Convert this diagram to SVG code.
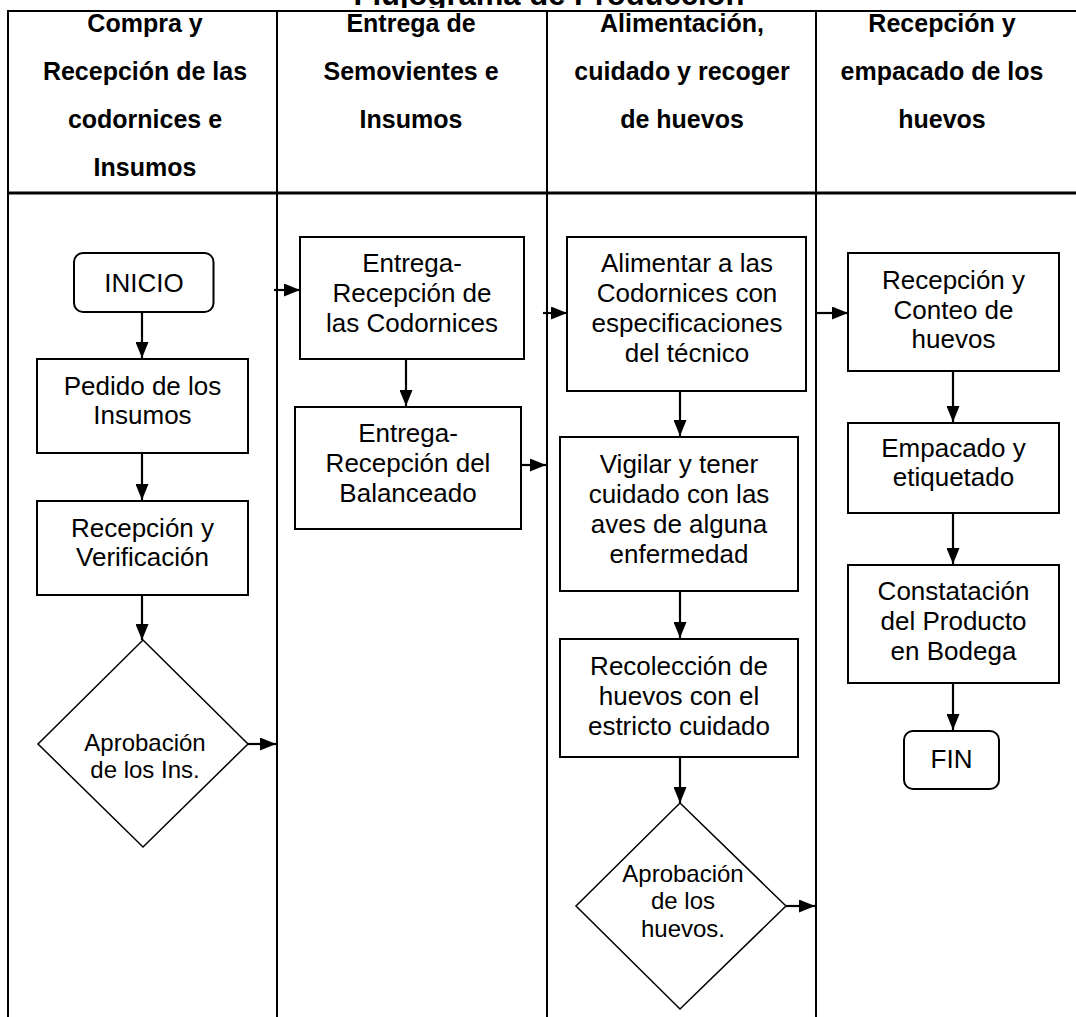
<svg xmlns="http://www.w3.org/2000/svg" width="1076" height="1017" viewBox="0 0 1076 1017">
<style>
  text { font-family: "Liberation Sans", Arial, sans-serif; fill: #000; text-anchor: middle; }
  .title { font-size: 31px; font-weight: bold; }
  .hdr { font-size: 25px; font-weight: bold; }
  .txt { font-size: 26px; }
  .dtxt { font-size: 24px; }
  .lane { stroke: #000; stroke-width: 2; fill: none; }
  .box { fill: #fff; stroke: #000; stroke-width: 2; }
  .dec { fill: #fff; stroke: #000; stroke-width: 1.5; }
  .conn line { stroke: #000; stroke-width: 2.2; marker-end: url(#arr); }
</style>
<defs>
  <marker id="arr" markerUnits="userSpaceOnUse" markerWidth="16" markerHeight="13" refX="16" refY="6.5" orient="auto">
    <path d="M0,0 L16,6.5 L0,13 Z" fill="#000"/>
  </marker>
  <clipPath id="titleClip"><rect x="0" y="0" width="1076" height="8"/></clipPath>
</defs>
<rect width="1076" height="1017" fill="#fff"/>

<g id="title" clip-path="url(#titleClip)">
  <text class="title" x="549" y="5">Flujograma de Producción</text>
</g>

<g id="table">
  <line class="lane" x1="8" y1="11" x2="1076" y2="11" stroke-width="2.5"/>
  <line class="lane" x1="8" y1="193" x2="1076" y2="193" style="stroke-width:3"/>
  <line class="lane" x1="8" y1="10" x2="8" y2="1017"/>
  <line class="lane" x1="277" y1="10" x2="277" y2="1017"/>
  <line class="lane" x1="547" y1="10" x2="547" y2="1017"/>
  <line class="lane" x1="816" y1="10" x2="816" y2="1017"/>
</g>

<g id="headers">
  <text class="hdr" x="145" y="32">Compra y</text>
  <text class="hdr" x="145" y="80">Recepción de las</text>
  <text class="hdr" x="145" y="128">codornices e</text>
  <text class="hdr" x="145" y="176">Insumos</text>
  <text class="hdr" x="411" y="32">Entrega de</text>
  <text class="hdr" x="411" y="80">Semovientes e</text>
  <text class="hdr" x="411" y="128">Insumos</text>
  <text class="hdr" x="682" y="32">Alimentación,</text>
  <text class="hdr" x="682" y="80">cuidado y recoger</text>
  <text class="hdr" x="682" y="128">de huevos</text>
  <text class="hdr" x="942" y="32">Recepción y</text>
  <text class="hdr" x="942" y="80">empacado de los</text>
  <text class="hdr" x="942" y="128">huevos</text>
</g>

<g id="inicio">
  <rect class="box" x="74" y="253" width="139.5" height="59" rx="9"/>
  <text class="txt" x="144" y="292">INICIO</text>
</g>
<g id="pedido">
  <rect class="box" x="37" y="359" width="211" height="94"/>
  <text class="txt" x="142.5" y="395">Pedido de los</text>
  <text class="txt" x="142.5" y="424">Insumos</text>
</g>
<g id="recepcion-verificacion">
  <rect class="box" x="37" y="501" width="211" height="94"/>
  <text class="txt" x="142.5" y="537">Recepción y</text>
  <text class="txt" x="142.5" y="566">Verificación</text>
</g>
<g id="aprobacion-ins">
  <polygon class="dec" points="143,640 248,744 143,847 38,744"/>
  <text class="dtxt" x="145" y="751">Aprobación</text>
  <text class="dtxt" x="145" y="778">de los Ins.</text>
</g>

<g id="entrega-codornices">
  <rect class="box" x="300" y="237" width="224" height="122"/>
  <text class="txt" x="412" y="272">Entrega-</text>
  <text class="txt" x="412" y="302">Recepción de</text>
  <text class="txt" x="412" y="332">las Codornices</text>
</g>
<g id="entrega-balanceado">
  <rect class="box" x="295" y="407" width="226" height="122"/>
  <text class="txt" x="408" y="442">Entrega-</text>
  <text class="txt" x="408" y="472">Recepción del</text>
  <text class="txt" x="408" y="502">Balanceado</text>
</g>

<g id="alimentar">
  <rect class="box" x="567" y="237" width="239" height="154"/>
  <text class="txt" x="687" y="272">Alimentar a las</text>
  <text class="txt" x="687" y="302">Codornices con</text>
  <text class="txt" x="687" y="332">especificaciones</text>
  <text class="txt" x="687" y="362">del técnico</text>
</g>
<g id="vigilar">
  <rect class="box" x="560" y="437" width="238" height="154"/>
  <text class="txt" x="679" y="473">Vigilar y tener</text>
  <text class="txt" x="679" y="503">cuidado con las</text>
  <text class="txt" x="679" y="533">aves de alguna</text>
  <text class="txt" x="679" y="563">enfermedad</text>
</g>
<g id="recoleccion">
  <rect class="box" x="560" y="639" width="238" height="118"/>
  <text class="txt" x="679" y="675">Recolección de</text>
  <text class="txt" x="679" y="705">huevos con el</text>
  <text class="txt" x="679" y="735">estricto cuidado</text>
</g>
<g id="aprobacion-huevos">
  <polygon class="dec" points="680,803 786,906 680,1009 576,906"/>
  <text class="dtxt" x="683" y="882">Aprobación</text>
  <text class="dtxt" x="683" y="909">de los</text>
  <text class="dtxt" x="683" y="937">huevos.</text>
</g>

<g id="recepcion-conteo">
  <rect class="box" x="848" y="253" width="211" height="118"/>
  <text class="txt" x="953.5" y="289">Recepción y</text>
  <text class="txt" x="953.5" y="319">Conteo de</text>
  <text class="txt" x="953.5" y="348">huevos</text>
</g>
<g id="empacado">
  <rect class="box" x="848" y="423" width="211" height="90"/>
  <text class="txt" x="953.5" y="457">Empacado y</text>
  <text class="txt" x="953.5" y="486">etiquetado</text>
</g>
<g id="constatacion">
  <rect class="box" x="848" y="565" width="211" height="118"/>
  <text class="txt" x="953.5" y="600">Constatación</text>
  <text class="txt" x="953.5" y="630">del Producto</text>
  <text class="txt" x="953.5" y="660">en Bodega</text>
</g>
<g id="fin">
  <rect class="box" x="904" y="731" width="95" height="58" rx="9"/>
  <text class="txt" x="951.5" y="768">FIN</text>
</g>

<g id="connectors" class="conn">
  <line x1="142" y1="312" x2="142" y2="358"/>
  <line x1="142" y1="453" x2="142" y2="500"/>
  <line x1="142" y1="595" x2="142" y2="640"/>
  <line x1="248" y1="744" x2="276" y2="744"/>
  <line x1="274" y1="290" x2="300" y2="290"/>
  <line x1="406" y1="359" x2="406" y2="406"/>
  <line x1="521" y1="465" x2="546" y2="465"/>
  <line x1="543" y1="313" x2="567" y2="313"/>
  <line x1="680" y1="391" x2="680" y2="436"/>
  <line x1="680" y1="591" x2="680" y2="638"/>
  <line x1="680" y1="757" x2="680" y2="803"/>
  <line x1="786" y1="906" x2="815" y2="906"/>
  <line x1="816" y1="313" x2="848" y2="313"/>
  <line x1="953" y1="371" x2="953" y2="422"/>
  <line x1="953" y1="513" x2="953" y2="564"/>
  <line x1="953" y1="683" x2="953" y2="730"/>
</g>
</svg>
